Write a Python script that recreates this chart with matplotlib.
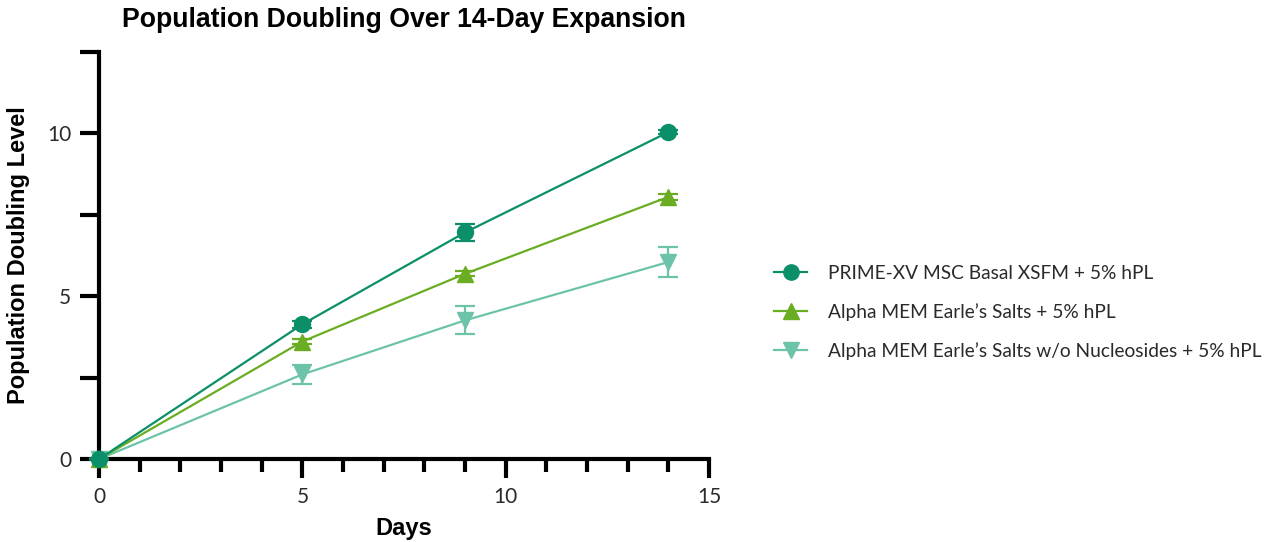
import matplotlib.pyplot as plt
from matplotlib.lines import Line2D
from matplotlib.ticker import MultipleLocator

days = [0, 5, 9, 14]

prime_mean = [0, 4.14, 6.96, 10.04]
prime_err = [0, 0.10, 0.25, 0.06]

alpha_mean = [0, 3.61, 5.69, 8.05]
alpha_err = [0, 0.08, 0.08, 0.10]

alpha_wo_mean = [0, 2.60, 4.26, 6.05]
alpha_wo_err = [0, 0.30, 0.43, 0.47]

labels = ["PRIME-XV MSC Basal XSFM + 5% hPL",
          "Alpha MEM Earle\u2019s Salts + 5% hPL",
          "Alpha MEM Earle\u2019s Salts w/o Nucleosides + 5% hPL"]
colors = ["#0b8f68", "#6aad22", "#6cc3a9"]
markers = ["o", "^", "v"]

plt.rcParams['font.family'] = ['Lato', 'DejaVu Sans']

fig = plt.figure(figsize=(12.78, 5.42), dpi=100)
ax = fig.add_axes([0.0775, 0.153, 0.4773, 0.751])

series = [(prime_mean, prime_err), (alpha_mean, alpha_err),
          (alpha_wo_mean, alpha_wo_err)]
handles = []
# first series on top so its marker covers the shared origin point
for i, ((mean, err), lab, c, m) in enumerate(zip(series, labels, colors, markers)):
    ax.errorbar(days, mean, yerr=err, color=c, marker=m, markersize=11.5,
                linewidth=1.6, elinewidth=1.6, capsize=7.5, capthick=1.6,
                clip_on=False, zorder=5 - i)
    handles.append(Line2D([], [], color=c, marker=m, markersize=11,
                          linewidth=1.6, label=lab))

ax.set_xlim(0, 15)
ax.set_ylim(0, 12.5)
ax.xaxis.set_major_locator(MultipleLocator(5))
ax.xaxis.set_minor_locator(MultipleLocator(1))
ax.yaxis.set_major_locator(MultipleLocator(5))
ax.yaxis.set_minor_locator(MultipleLocator(2.5))

for side in ['top', 'right']:
    ax.spines[side].set_visible(False)
for side in ['left', 'bottom']:
    ax.spines[side].set_linewidth(3)

ax.tick_params(which='major', length=14, width=3, labelsize=15,
               pad=6, color='black', labelcolor='#2a2a2a')
ax.tick_params(which='minor', length=9, width=3, color='black')
ax.tick_params(axis='y', which='minor', length=14)

ax.set_xlabel("Days", fontsize=17, fontweight='bold',
              family=['Liberation Sans'], labelpad=7)
ax.set_ylabel("Population Doubling Level", fontsize=17, fontweight='bold',
              family=['Liberation Sans'], labelpad=12)
ax.set_title("Population Doubling Over 14-Day Expansion", fontsize=19.2,
             fontweight='bold', family=['Liberation Sans'], pad=18)

leg = fig.legend(handles=handles, loc='center left',
                 bbox_to_anchor=(0.606, 0.424), frameon=False,
                 fontsize=13.8, handlelength=1.7, labelspacing=1.1,
                 handletextpad=1.1, borderaxespad=0, borderpad=0)
for t in leg.get_texts():
    t.set_color('#2a2a2a')

fig.savefig("out.png", dpi=100)
